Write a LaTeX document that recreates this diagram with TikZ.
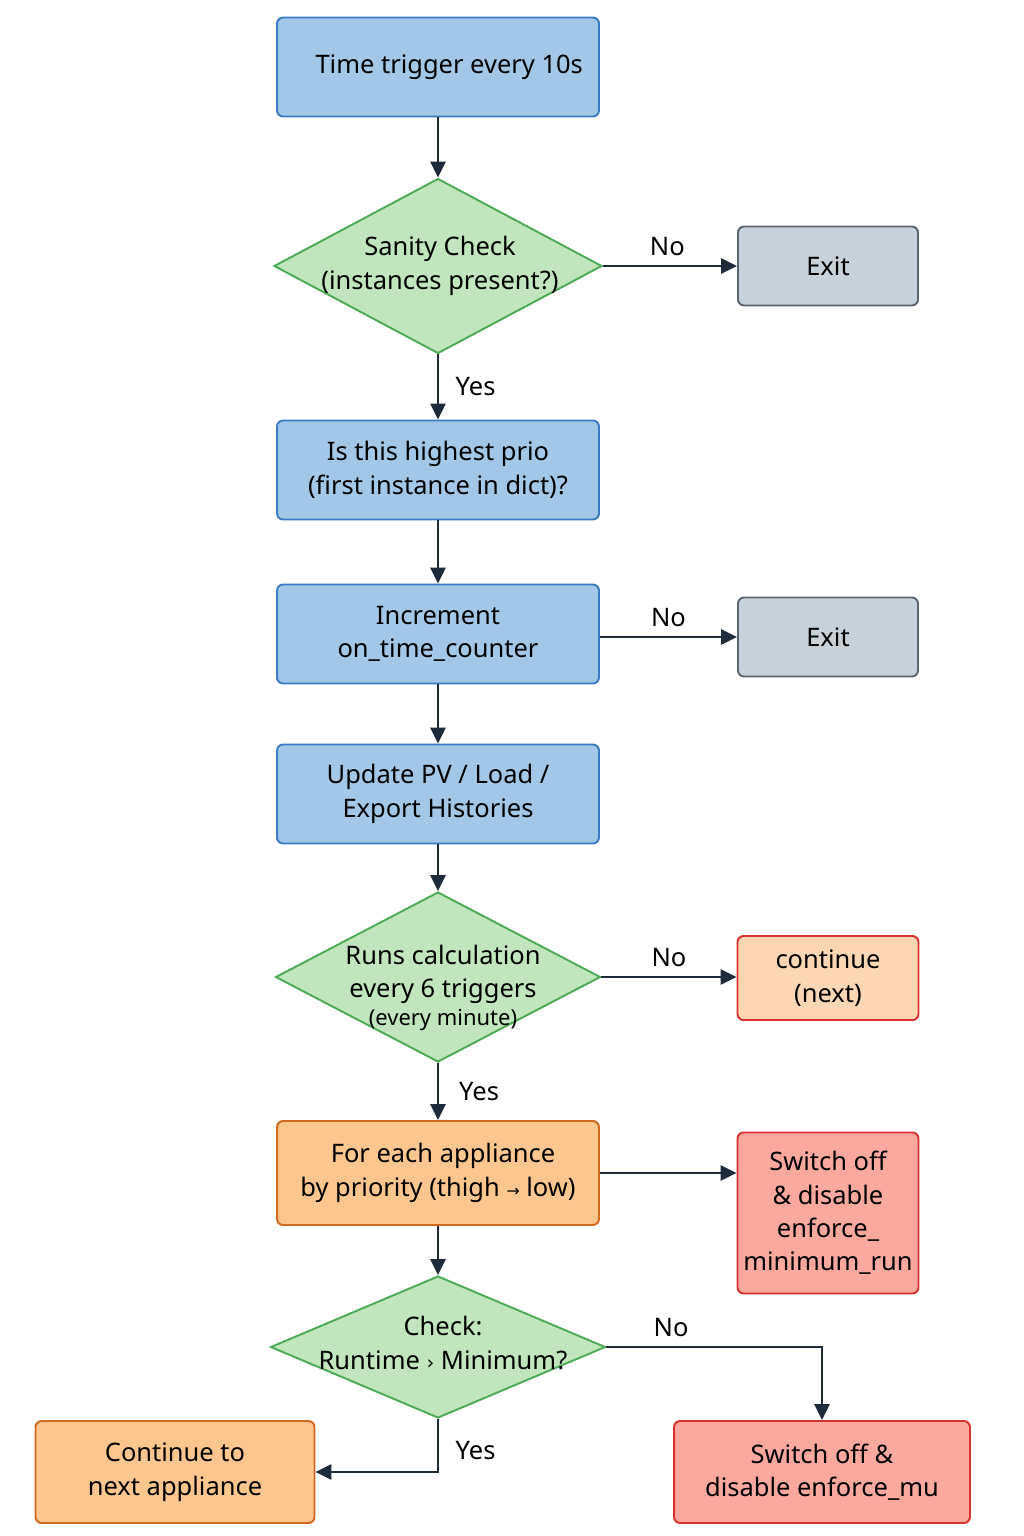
\documentclass[tikz,border=0pt]{standalone}
\usepackage{fontspec}
\setmainfont{Noto Sans}
\newfontfamily\symfont{DejaVu Sans}
\usetikzlibrary{shapes.geometric,arrows.meta}
\definecolor{blueFill}{HTML}{A3C7E6}
\definecolor{blueLine}{HTML}{3B7BC4}
\definecolor{greenFill}{HTML}{C1E5BC}
\definecolor{greenLine}{HTML}{4DAA55}
\definecolor{grayFill}{HTML}{C7D1DA}
\definecolor{grayLine}{HTML}{5B6670}
\definecolor{peachFill}{HTML}{FDD6B4}
\definecolor{orangeFill}{HTML}{FDC68F}
\definecolor{orangeLine}{HTML}{D2691E}
\definecolor{redFill}{HTML}{FBA89F}
\definecolor{redLine}{HTML}{D7322D}
\definecolor{arrowCol}{HTML}{1E2B3A}
\begin{document}
\begin{tikzpicture}[x=0.02cm, y=-0.02cm, font=\fontsize{14.5}{19}\selectfont]
        \tikzstyle{box}=[rectangle, rounded corners=0.12cm, line width=1.1pt, align=center, inner sep=0pt]
        \tikzstyle{process}=[box, fill=blueFill, draw=blueLine, minimum width=6.44cm, minimum height=1.98cm]
        \tikzstyle{exitbox}=[box, fill=grayFill, draw=grayLine, minimum width=3.6cm, minimum height=1.58cm]
        \tikzstyle{decision}=[diamond, fill=greenFill, draw=greenLine, line width=1.1pt, inner sep=0pt]
        \tikzstyle{txt}=[align=center, inner sep=0pt]
        \tikzstyle{flow}=[-{Triangle[length=0.32cm, width=0.3cm]}, draw=arrowCol, line width=1.5pt]

        \useasboundingbox (0,0) rectangle (1024,1536);

        % Trigger
        \draw node at (438, 67) [process] (trigger) {\hspace*{0.45cm}Time trigger every 10s};

        % Sanity check
        \draw node at (438, 266) [decision, minimum width=6.56cm, minimum height=3.5cm] (sanity) {};
        \draw node at (440, 266) [txt] (sanity_txt) {Sanity Check\\(instances present?)};
        \draw node at (828, 266) [exitbox] (exit_0) {Exit};

        % Prio / counter / histories
        \draw node at (438, 470) [process] (prio) {Is this highest prio\\(first instance in dict)?};
        \draw node at (438, 634) [process] (counter) {Increment\\on\_time\_counter};
        \draw node at (828, 637) [exitbox] (exit_1) {Exit};
        \draw node at (438, 794) [process] (histories) {Update PV / Load /\\Export Histories};

        % Calculation
        \draw node at (438, 977) [decision, minimum width=6.5cm, minimum height=3.4cm] (calc) {};
        \draw node at (443, 988) [txt] (calc_txt) {Runs calculation\\every 6 triggers\\[-3pt]{\fontsize{12.5}{14}\selectfont(every minute)}};
        \draw node at (828, 978) [box, fill=peachFill, draw=redLine, minimum width=3.62cm, minimum height=1.68cm] (next) {continue\\(next)};

        % Appliances
        \draw node at (438, 1173) [box, fill=orangeFill, draw=orangeLine, minimum width=6.44cm, minimum height=2.08cm] (appliance) {\hspace*{0.2cm}For each appliance\\by priority (thigh {\symfont\fontsize{9}{10}\selectfont→} low)};
        \draw node at (828, 1213) [box, fill=redFill, draw=redLine, minimum width=3.62cm, minimum height=3.22cm] (off_0) {Switch off\\\& disable\\enforce\_\\minimum\_run};

        % Runtime check
        \draw node at (438, 1347) [decision, minimum width=6.7cm, minimum height=2.84cm] (runtime) {};
        \draw node at (443, 1343) [txt] (runtime_txt) {Check:\\Runtime {\symfont\fontsize{11}{13}\selectfont›} Minimum?};
        \draw node at (175, 1472) [box, fill=orangeFill, draw=orangeLine, minimum width=5.58cm, minimum height=2.04cm] (continue) {Continue to\\next appliance};
        \draw node at (822, 1472) [box, fill=redFill, draw=redLine, minimum width=5.92cm, minimum height=2.04cm] (off_1) {Switch off \&\\disable enforce\_mu};

        % Connections
        \draw [flow] (trigger) -- (sanity);
        \draw [flow] (sanity) -- node[above, pos=0.48, yshift=2pt] {No} (exit_0);
        \draw [flow] (sanity) -- node[right, xshift=6pt] {Yes} (prio);
        \draw [flow] (prio) -- (counter);
        \draw [flow] (counter.east |- exit_1) -- node[above, yshift=2pt] {No} (exit_1);
        \draw [flow] (counter) -- (histories);
        \draw [flow] (histories) -- (calc);
        \draw [flow] (calc) -- node[above, yshift=2pt] {No} (next.west |- calc);
        \draw [flow] (calc) -- node[right, xshift=8pt] {Yes} (appliance);
        \draw [flow] (appliance) -- (off_0.west |- appliance);
        \draw [flow] (appliance) -- (runtime);
        \draw [flow] (runtime.east) -| node[above, pos=0.15, yshift=2pt] {No} (off_1.north);
        \draw [flow] (runtime.south) |- node[right, pos=0.3, xshift=6pt] {Yes} (continue.east);

    \end{tikzpicture}
\end{document}
